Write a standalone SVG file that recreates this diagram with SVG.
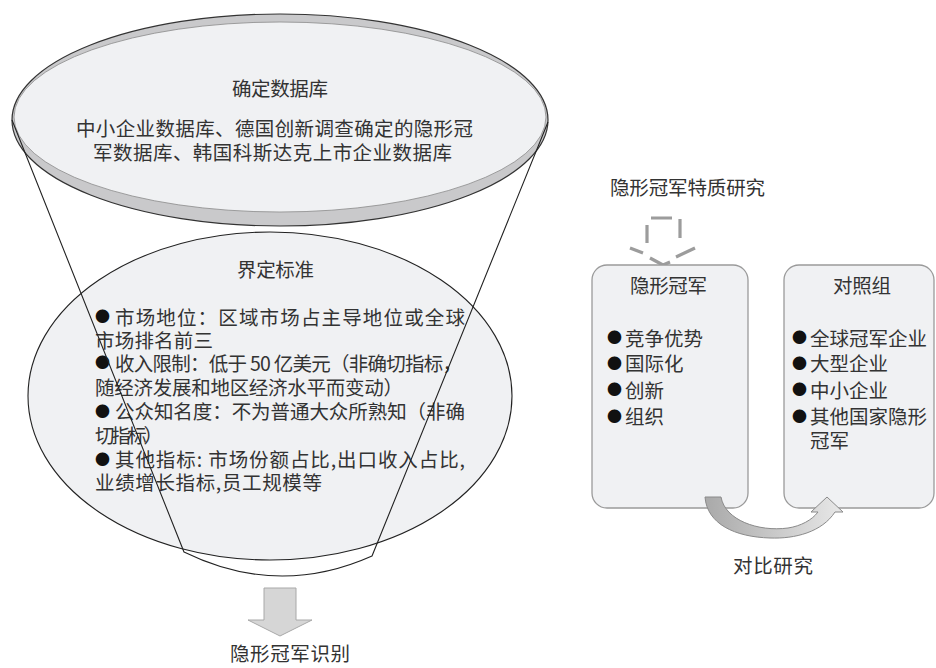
<svg xmlns="http://www.w3.org/2000/svg" width="936" height="668" viewBox="0 0 936 668">
<defs>
<style>
.t{font-family:"Noto Sans CJK SC","Liberation Serif",serif;font-size:19.5px;fill:#333}
.b{font-family:"Noto Sans CJK SC","DejaVu Sans",sans-serif;font-size:15px;fill:#111}
.face{fill:#f0f1f3}
.box{fill:#f0f1f3;stroke:#9a9a9a;stroke-width:1.3}
.dash{fill:none;stroke:#9c9c9c;stroke-width:3.2;stroke-linejoin:round}
</style>
<linearGradient id="g" x1="0" y1="0" x2="1" y2="0">
<stop offset="0" stop-color="#a9a9a9"/>
<stop offset="1" stop-color="#e8e8e8"/>
</linearGradient>
</defs>
<rect width="936" height="668" fill="#fff"/>

<g id="database">
<ellipse cx="280" cy="120" rx="268" ry="106" fill="#c9c9cb" stroke="#333" stroke-width="1.2"/>
<ellipse cx="280" cy="117" rx="266" ry="95" class="face" stroke="#8a8a8a" stroke-width="0.8"/>
<text class="t" x="232" y="95.5" textLength="96" lengthAdjust="spacing">确定数据库</text>
<text class="t" x="76" y="135.5" textLength="397" lengthAdjust="spacing">中小企业数据库、德国创新调查确定的隐形冠</text>
<text class="t" x="93" y="159.5" textLength="359" lengthAdjust="spacing">军数据库、韩国科斯达克上市企业数据库</text>
</g>

<g id="criteria">
<ellipse cx="270" cy="396" rx="242" ry="164" class="face" stroke="#222" stroke-width="1.1"/>
<text class="t" x="237" y="276.5" textLength="77" lengthAdjust="spacing">界定标准</text>
<text class="b" x="95" y="322">●</text>
<text class="t" x="115" y="324.5" textLength="350" lengthAdjust="spacing">市场地位：区域市场占主导地位或全球</text>
<text class="t" x="95" y="347.5" textLength="118" lengthAdjust="spacing">市场排名前三</text>
<text class="b" x="95" y="368">●</text>
<text class="t" x="115" y="370.5" textLength="347" lengthAdjust="spacing">收入限制：低于 50 亿美元（非确切指标，</text>
<text class="t" x="95" y="395" textLength="308" lengthAdjust="spacing">随经济发展和地区经济水平而变动）</text>
<text class="b" x="95" y="416.5">●</text>
<text class="t" x="115" y="419" textLength="350" lengthAdjust="spacing">公众知名度：不为普通大众所熟知（非确</text>
<text class="t" x="95" y="443" textLength="68" lengthAdjust="spacing">切指标）</text>
<text class="b" x="95" y="464.5">●</text>
<text class="t" x="115" y="467" textLength="350" lengthAdjust="spacing">其他指标: 市场份额占比,出口收入占比,</text>
<text class="t" x="95" y="490" textLength="227" lengthAdjust="spacing">业绩增长指标,员工规模等</text>
</g>

<g id="funnel" fill="none" stroke="#222" stroke-width="1.1">
<path d="M12,120 L184,552 Q278,598 372,556 L548,122"/>
</g>

<g id="identify">
<path d="M264,588 H296 V620 H312 L280,636 L248,620 H264 Z" fill="#d6d6d6" stroke="#a8a8a8" stroke-width="1"/>
<text class="t" x="230" y="661" textLength="120" lengthAdjust="spacing">隐形冠军识别</text>
</g>

<g id="trait">
<text class="t" x="610" y="195" textLength="155" lengthAdjust="spacing">隐形冠军特质研究</text>
<path class="dash" d="M651,218 H672 M680,219 V238 M695,248 L676,257 M650,258 L663,265 L670,262 M630,248 L643,253 M647,225 V243"/>
</g>

<g id="champion">
<rect x="592" y="265" width="156" height="243" rx="15" class="box"/>
<text class="t" x="630" y="292.5" textLength="77" lengthAdjust="spacing">隐形冠军</text>
<text class="b" x="607" y="343">●</text><text class="t" x="625" y="345.5">竞争优势</text>
<text class="b" x="607" y="368.5">●</text><text class="t" x="625" y="371">国际化</text>
<text class="b" x="607" y="395">●</text><text class="t" x="625" y="397.5">创新</text>
<text class="b" x="607" y="421.5">●</text><text class="t" x="625" y="424">组织</text>
</g>

<g id="control">
<rect x="784" y="265" width="150" height="243" rx="15" class="box"/>
<text class="t" x="833" y="292.5" textLength="58" lengthAdjust="spacing">对照组</text>
<text class="b" x="792" y="343">●</text><text class="t" x="810" y="345.5" textLength="117" lengthAdjust="spacing">全球冠军企业</text>
<text class="b" x="792" y="368.5">●</text><text class="t" x="810" y="371">大型企业</text>
<text class="b" x="792" y="395">●</text><text class="t" x="810" y="397.5">中小企业</text>
<text class="b" x="792" y="421.5">●</text><text class="t" x="810" y="424" textLength="117" lengthAdjust="spacing">其他国家隐形</text>
<text class="t" x="810" y="447.5">冠军</text>
</g>

<g id="connectors">
<path d="M705,497 L721,497 C725,520 758,532 788,528 C801,526 812,520 818,512 L811,512 L827,497 L843,512 L835,512 C822,532 795,539 770,538 C735,537 707,524 705,497 Z" fill="url(#g)" stroke="#8a8a8a" stroke-width="1"/>
<text class="t" x="733" y="573" textLength="80" lengthAdjust="spacing">对比研究</text>
</g>
</svg>
